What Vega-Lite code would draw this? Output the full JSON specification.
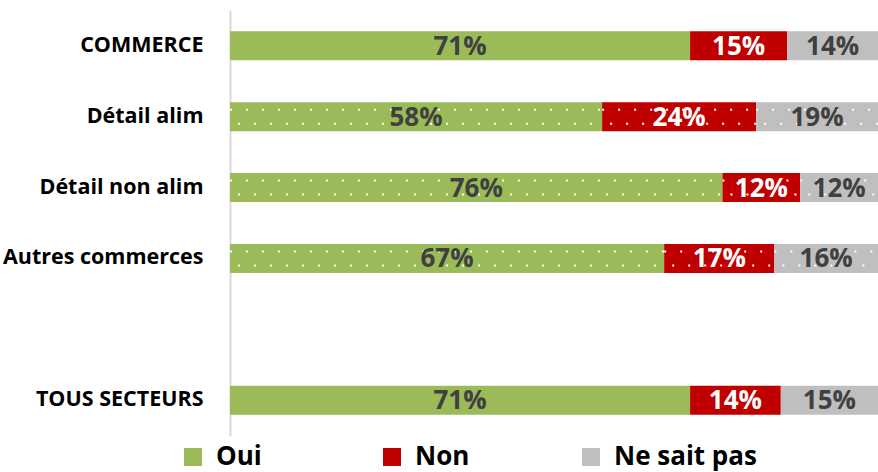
{
  "$schema": "https://vega.github.io/schema/vega-lite/v6.json",
  "width": 648,
  "height": 426,
  "autosize": "none",
  "padding": {"left": 230, "top": 10, "right": 0, "bottom": 36},
  "background": "white",
  "config": {"view": {"stroke": null}, "font": "Open Sans"},
  "data": {
    "values": [
      {"cat": "COMMERCE", "rep": "Oui", "value": 71},
      {"cat": "COMMERCE", "rep": "Non", "value": 15},
      {"cat": "COMMERCE", "rep": "Ne sait pas", "value": 14},
      {"cat": "Détail alim", "rep": "Oui", "value": 58},
      {"cat": "Détail alim", "rep": "Non", "value": 24},
      {"cat": "Détail alim", "rep": "Ne sait pas", "value": 19},
      {"cat": "Détail non alim", "rep": "Oui", "value": 76},
      {"cat": "Détail non alim", "rep": "Non", "value": 12},
      {"cat": "Détail non alim", "rep": "Ne sait pas", "value": 12},
      {"cat": "Autres commerces", "rep": "Oui", "value": 67},
      {"cat": "Autres commerces", "rep": "Non", "value": 17},
      {"cat": "Autres commerces", "rep": "Ne sait pas", "value": 16},
      {"cat": "TOUS SECTEURS", "rep": "Oui", "value": 71},
      {"cat": "TOUS SECTEURS", "rep": "Non", "value": 14},
      {"cat": "TOUS SECTEURS", "rep": "Ne sait pas", "value": 15}
    ]
  },
  "transform": [
    {"calculate": "indexof(['Oui','Non','Ne sait pas'], datum.rep)", "as": "ord"},
    {"stack": "value", "groupby": ["cat"], "sort": [{"field": "ord", "order": "ascending"}], "offset": "normalize", "as": ["v0", "v1"]},
    {"calculate": "(datum.v0 + datum.v1) / 2", "as": "mid"},
    {"calculate": "datum.value + '%'", "as": "lbl"}
  ],
  "encoding": {
    "y": {
      "field": "cat",
      "type": "nominal",
      "scale": {
        "domain": ["COMMERCE", "Détail alim", "Détail non alim", "Autres commerces", " ", "TOUS SECTEURS"],
        "paddingInner": 0.59,
        "paddingOuter": 0.3
      },
      "axis": {
        "title": null,
        "ticks": false,
        "domainColor": "#D9D9D9",
        "domainWidth": 2,
        "labelPadding": 27,
        "labelFontSize": 21.5,
        "labelFontWeight": "bold",
        "labelColor": "#000000",
        "labelFont": "Open Sans",
        "labelLimit": 300
      }
    }
  },
  "layer": [
    {
      "mark": {"type": "bar"},
      "encoding": {
        "x": {"field": "v0", "type": "quantitative", "scale": {"domain": [0, 1], "nice": false, "zero": false}, "axis": null},
        "x2": {"field": "v1"},
        "color": {
          "field": "rep",
          "type": "nominal",
          "scale": {"domain": ["Oui", "Non", "Ne sait pas"], "range": ["#9BBB59", "#C00000", "#BFBFBF"]},
          "legend": {
            "title": null,
            "orient": "none",
            "legendX": -50,
            "legendY": 434,
            "direction": "horizontal",
            "columns": 3,
            "gridAlign": "all",
            "columnPadding": 20,
            "symbolType": "square",
            "symbolSize": 324,
            "symbolStrokeWidth": 0,
            "symbolOpacity": 1,
            "labelFontSize": 26,
            "labelFontWeight": "bold",
            "labelColor": "#000000",
            "labelFont": "Open Sans",
            "labelOffset": 10,
            "labelLimit": 300
          }
        }
      }
    },
    {
      "transform": [{"filter": "datum.cat != 'COMMERCE' && datum.cat != 'TOUS SECTEURS'"}],
      "mark": {"type": "rule", "color": "white", "strokeWidth": 2, "strokeDash": [2, 14], "strokeCap": "butt", "yOffset": -7},
      "encoding": {"x": {"field": "v0", "type": "quantitative"}, "x2": {"field": "v1"}}
    },
    {
      "transform": [{"filter": "datum.cat != 'COMMERCE' && datum.cat != 'TOUS SECTEURS'"}],
      "mark": {"type": "rule", "color": "white", "strokeWidth": 2, "strokeDash": [2, 14], "strokeDashOffset": 8, "strokeCap": "butt", "yOffset": 7},
      "encoding": {"x": {"field": "v0", "type": "quantitative"}, "x2": {"field": "v1"}}
    },
    {
      "mark": {"type": "text", "fontSize": 26, "fontWeight": "bold", "font": "Open Sans", "align": "center", "baseline": "middle", "dy": 1},
      "encoding": {
        "x": {"field": "mid", "type": "quantitative"},
        "text": {"field": "lbl"},
        "color": {
          "condition": {"test": "datum.rep == 'Non'", "value": "#FFFFFF"},
          "value": "#404040"
        }
      }
    }
  ]
}
